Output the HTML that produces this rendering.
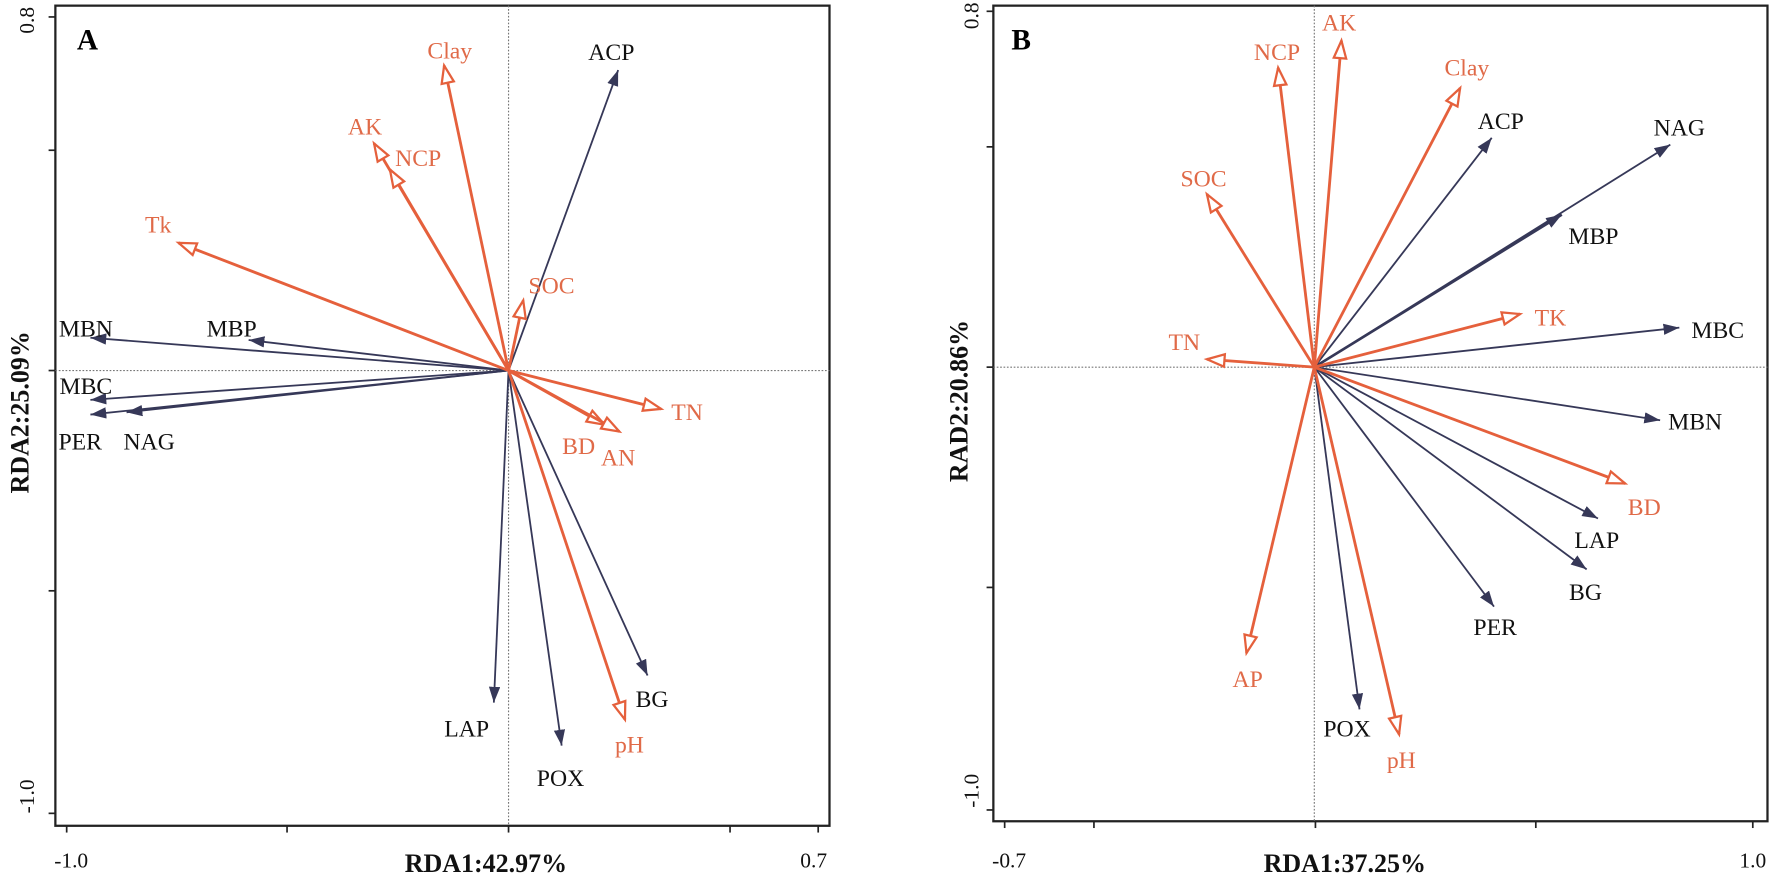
<!DOCTYPE html>
<html><head><meta charset="utf-8"><style>
html,body{margin:0;padding:0;background:#fff;}
svg{display:block;}
text{font-family:"Liberation Serif",serif;}
.b{fill:#111;font-size:21px;}
.r{fill:#e06a48;font-size:21px;}
.bl{stroke:#363858;stroke-width:1.6;fill:none;}
.rl{stroke:#e5603c;stroke-width:2.5;fill:none;}
.tk{font-size:19px;fill:#111;}
.ti{font-size:23px;font-weight:bold;fill:#111;}
</style></head><body>
<svg width="1772" height="880" viewBox="0 0 1568 779" preserveAspectRatio="none" xmlns="http://www.w3.org/2000/svg">
<defs>
<marker id="mb" markerUnits="userSpaceOnUse" markerWidth="20" markerHeight="20" refX="14" refY="5" orient="auto">
<path d="M0,0 L14,5 L0,10 Z" fill="#363858"/></marker>
<marker id="mr" markerUnits="userSpaceOnUse" markerWidth="24" markerHeight="20" refX="17" refY="7" orient="auto">
<path d="M1.5,1.5 L17,7 L1.5,12.5 Z" fill="#fff" stroke="#e5603c" stroke-width="2"/></marker>
</defs>
<!-- Panel A -->
<rect x="49" y="5" width="685" height="726" fill="none" stroke="#222" stroke-width="2"/>
<line x1="450" y1="5" x2="450" y2="731" stroke="#777" stroke-width="1" stroke-dasharray="1.5,1.5"/>
<line x1="49" y1="328" x2="734" y2="328" stroke="#777" stroke-width="1" stroke-dasharray="1.5,1.5"/>
<g stroke="#222" stroke-width="1.5">
<line x1="59" y1="731" x2="59" y2="737"/><line x1="254" y1="731" x2="254" y2="737"/><line x1="450" y1="731" x2="450" y2="737"/><line x1="646" y1="731" x2="646" y2="737"/><line x1="724" y1="731" x2="724" y2="737"/>
<line x1="43" y1="15" x2="49" y2="15"/><line x1="43" y1="133" x2="49" y2="133"/><line x1="43" y1="328" x2="49" y2="328"/><line x1="43" y1="523" x2="49" y2="523"/><line x1="43" y1="720" x2="49" y2="720"/>
</g>
<text class="tk" x="63" y="768" text-anchor="middle">-1.0</text>
<text class="tk" x="720" y="768" text-anchor="middle">0.7</text>
<text class="tk" transform="translate(30,18) rotate(-90)" text-anchor="middle">0.8</text>
<text class="tk" transform="translate(30,705) rotate(-90)" text-anchor="middle">-1.0</text>
<text class="ti" x="430" y="772" text-anchor="middle">RDA1:42.97%</text>
<text class="ti" transform="translate(25,365) rotate(-90)" text-anchor="middle">RDA2:25.09%</text>
<text x="68" y="44" style="font-size:26px;font-weight:bold">A</text>
<g class="bl">
<line x1="450" y1="328" x2="547" y2="62" marker-end="url(#mb)"/>
<line x1="450" y1="328" x2="80" y2="299" marker-end="url(#mb)"/>
<line x1="450" y1="328" x2="220" y2="301" marker-end="url(#mb)"/>
<line x1="450" y1="328" x2="80" y2="354" marker-end="url(#mb)"/>
<line x1="450" y1="328" x2="80" y2="367" marker-end="url(#mb)"/>
<line x1="450" y1="328" x2="112" y2="365" marker-end="url(#mb)"/>
<line x1="450" y1="328" x2="437" y2="622" marker-end="url(#mb)"/>
<line x1="450" y1="328" x2="497" y2="660" marker-end="url(#mb)"/>
<line x1="450" y1="328" x2="573" y2="598" marker-end="url(#mb)"/>
</g>
<g class="rl">
<line x1="450" y1="328" x2="393" y2="58" marker-end="url(#mr)"/>
<line x1="450" y1="328" x2="331" y2="127" marker-end="url(#mr)"/>
<line x1="450" y1="328" x2="345" y2="150" marker-end="url(#mr)"/>
<line x1="450" y1="328" x2="158" y2="215" marker-end="url(#mr)"/>
<line x1="450" y1="328" x2="463" y2="266" marker-end="url(#mr)"/>
<line x1="450" y1="328" x2="585" y2="362" marker-end="url(#mr)"/>
<line x1="450" y1="328" x2="535" y2="376" marker-end="url(#mr)"/>
<line x1="450" y1="328" x2="548" y2="382" marker-end="url(#mr)"/>
<line x1="450" y1="328" x2="553" y2="637" marker-end="url(#mr)"/>
</g>
<text class="b" x="541" y="53" text-anchor="middle">ACP</text>
<text class="b" x="76" y="298" text-anchor="middle">MBN</text>
<text class="b" x="205" y="298" text-anchor="middle">MBP</text>
<text class="b" x="76" y="349" text-anchor="middle">MBC</text>
<text class="b" x="71" y="398" text-anchor="middle">PER</text>
<text class="b" x="132" y="398" text-anchor="middle">NAG</text>
<text class="b" x="413" y="652" text-anchor="middle">LAP</text>
<text class="b" x="496" y="696" text-anchor="middle">POX</text>
<text class="b" x="577" y="626" text-anchor="middle">BG</text>
<text class="r" x="398" y="52" text-anchor="middle">Clay</text>
<text class="r" x="323" y="119" text-anchor="middle">AK</text>
<text class="r" x="370" y="147" text-anchor="middle">NCP</text>
<text class="r" x="140" y="206" text-anchor="middle">Tk</text>
<text class="r" x="488" y="260" text-anchor="middle">SOC</text>
<text class="r" x="608" y="372" text-anchor="middle">TN</text>
<text class="r" x="512" y="402" text-anchor="middle">BD</text>
<text class="r" x="547" y="412" text-anchor="middle">AN</text>
<text class="r" x="557" y="666" text-anchor="middle">pH</text>

<!-- Panel B -->
<rect x="879" y="5" width="685" height="722" fill="none" stroke="#222" stroke-width="2"/>
<line x1="1163" y1="5" x2="1163" y2="727" stroke="#777" stroke-width="1" stroke-dasharray="1.5,1.5"/>
<line x1="879" y1="325" x2="1564" y2="325" stroke="#777" stroke-width="1" stroke-dasharray="1.5,1.5"/>
<g stroke="#222" stroke-width="1.5">
<line x1="889" y1="727" x2="889" y2="733"/><line x1="968" y1="727" x2="968" y2="733"/><line x1="1164" y1="727" x2="1164" y2="733"/><line x1="1359" y1="727" x2="1359" y2="733"/><line x1="1551" y1="727" x2="1551" y2="733"/>
<line x1="873" y1="10" x2="879" y2="10"/><line x1="873" y1="130" x2="879" y2="130"/><line x1="873" y1="325" x2="879" y2="325"/><line x1="873" y1="520" x2="879" y2="520"/><line x1="873" y1="717" x2="879" y2="717"/>
</g>
<text class="tk" x="893" y="768" text-anchor="middle">-0.7</text>
<text class="tk" x="1551" y="768" text-anchor="middle">1.0</text>
<text class="tk" transform="translate(866,14) rotate(-90)" text-anchor="middle">0.8</text>
<text class="tk" transform="translate(866,700) rotate(-90)" text-anchor="middle">-1.0</text>
<text class="ti" x="1190" y="772" text-anchor="middle">RDA1:37.25%</text>
<text class="ti" transform="translate(856,355) rotate(-90)" text-anchor="middle">RAD2:20.86%</text>
<text x="895" y="44" style="font-size:26px;font-weight:bold">B</text>
<g class="bl">
<line x1="1163" y1="325" x2="1320" y2="122" marker-end="url(#mb)"/>
<line x1="1163" y1="325" x2="1478" y2="128" marker-end="url(#mb)"/>
<line x1="1163" y1="325" x2="1382" y2="190" marker-end="url(#mb)" style="stroke-width:2.4"/>
<line x1="1163" y1="325" x2="1486" y2="290" marker-end="url(#mb)"/>
<line x1="1163" y1="325" x2="1469" y2="372" marker-end="url(#mb)"/>
<line x1="1163" y1="325" x2="1414" y2="459" marker-end="url(#mb)"/>
<line x1="1163" y1="325" x2="1404" y2="504" marker-end="url(#mb)"/>
<line x1="1163" y1="325" x2="1322" y2="537" marker-end="url(#mb)"/>
<line x1="1163" y1="325" x2="1203" y2="628" marker-end="url(#mb)"/>
</g>
<g class="rl">
<line x1="1163" y1="325" x2="1187" y2="36" marker-end="url(#mr)"/>
<line x1="1163" y1="325" x2="1131" y2="60" marker-end="url(#mr)"/>
<line x1="1163" y1="325" x2="1292" y2="78" marker-end="url(#mr)"/>
<line x1="1163" y1="325" x2="1068" y2="172" marker-end="url(#mr)"/>
<line x1="1163" y1="325" x2="1068" y2="318" marker-end="url(#mr)"/>
<line x1="1163" y1="325" x2="1345" y2="278" marker-end="url(#mr)"/>
<line x1="1163" y1="325" x2="1438" y2="428" marker-end="url(#mr)"/>
<line x1="1163" y1="325" x2="1103" y2="578" marker-end="url(#mr)"/>
<line x1="1163" y1="325" x2="1238" y2="650" marker-end="url(#mr)"/>
</g>
<text class="b" x="1328" y="114" text-anchor="middle">ACP</text>
<text class="b" x="1486" y="120" text-anchor="middle">NAG</text>
<text class="b" x="1410" y="216" text-anchor="middle">MBP</text>
<text class="b" x="1520" y="299" text-anchor="middle">MBC</text>
<text class="b" x="1500" y="380" text-anchor="middle">MBN</text>
<text class="b" x="1413" y="485" text-anchor="middle">LAP</text>
<text class="b" x="1403" y="531" text-anchor="middle">BG</text>
<text class="b" x="1323" y="562" text-anchor="middle">PER</text>
<text class="b" x="1192" y="652" text-anchor="middle">POX</text>
<text class="r" x="1185" y="27" text-anchor="middle">AK</text>
<text class="r" x="1130" y="53" text-anchor="middle">NCP</text>
<text class="r" x="1298" y="67" text-anchor="middle">Clay</text>
<text class="r" x="1065" y="165" text-anchor="middle">SOC</text>
<text class="r" x="1048" y="310" text-anchor="middle">TN</text>
<text class="r" x="1372" y="288" text-anchor="middle">TK</text>
<text class="r" x="1455" y="456" text-anchor="middle">BD</text>
<text class="r" x="1104" y="608" text-anchor="middle">AP</text>
<text class="r" x="1240" y="680" text-anchor="middle">pH</text>
</svg>
</body></html>
